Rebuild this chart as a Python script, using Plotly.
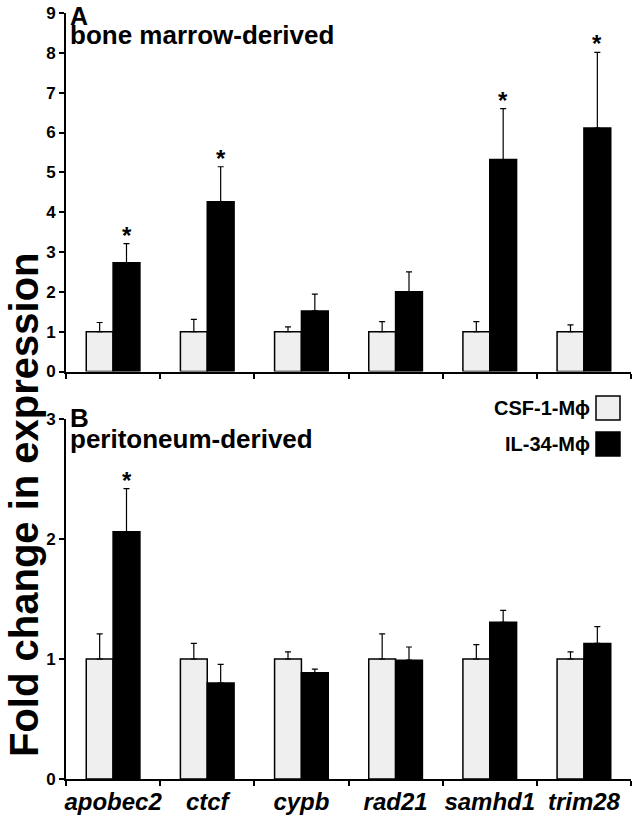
import plotly.graph_objects as go

genes = ["apobec2", "ctcf", "cypb", "rad21", "samhd1", "trim28"]
gene_labels = ["<i>apobec2</i>", "<i>ctcf</i>", "<i>cypb</i>", "<i>rad21</i>", "<i>samhd1</i>", "<i>trim28</i>"]

# Panel A: bone marrow-derived
bm_csf = [1.0, 1.0, 1.0, 1.0, 1.0, 1.0]
bm_csf_err = [0.23, 0.31, 0.12, 0.25, 0.25, 0.17]
bm_il = [2.73, 4.26, 1.52, 2.0, 5.32, 6.11]
bm_il_err = [0.48, 0.88, 0.42, 0.5, 1.28, 1.9]
bm_sig = [True, True, False, False, True, True]

# Panel B: peritoneum-derived
pe_csf = [1.0, 1.0, 1.0, 1.0, 1.0, 1.0]
pe_csf_err = [0.21, 0.13, 0.06, 0.21, 0.12, 0.06]
pe_il = [2.06, 0.80, 0.886, 0.99, 1.306, 1.13]
pe_il_err = [0.36, 0.155, 0.03, 0.11, 0.1, 0.14]
pe_sig = [True, False, False, False, False, False]

top_ticks = [0, 1, 2, 3, 4, 5, 6, 7, 8, 9]
bot_ticks = [0, 1, 2, 3]

FONT = "Liberation Sans, Arial, sans-serif"
CSF_COLOR = "#efefef"
IL_COLOR = "#000000"

fig = go.Figure()

def add_bars(xa, ya, csf, csf_err, il, il_err):
    fig.add_trace(go.Bar(
        x=gene_labels, y=csf, name="CSF-1-M\u03d5", xaxis=xa, yaxis=ya,
        marker=dict(color=CSF_COLOR, line=dict(color="black", width=1.5)),
        error_y=dict(type="data", symmetric=False, array=csf_err,
                     arrayminus=[0] * len(csf_err), color="black",
                     thickness=1.2, width=3),
        showlegend=False, offsetgroup="csf"))
    fig.add_trace(go.Bar(
        x=gene_labels, y=il, name="IL-34-M\u03d5", xaxis=xa, yaxis=ya,
        marker=dict(color=IL_COLOR, line=dict(color="black", width=1.5)),
        error_y=dict(type="data", symmetric=False, array=il_err,
                     arrayminus=[0] * len(il_err), color="black",
                     thickness=1.2, width=3),
        showlegend=False, offsetgroup="il"))

add_bars("x", "y", bm_csf, bm_csf_err, bm_il, bm_il_err)
add_bars("x2", "y2", pe_csf, pe_csf_err, pe_il, pe_il_err)

annotations = []
for i, g in enumerate(gene_labels):
    if bm_sig[i]:
        annotations.append(dict(x=g, y=bm_il[i] + bm_il_err[i], xref="x", yref="y",
                                text="<b>*</b>", showarrow=False, xshift=13.5, yshift=-7,
                                yanchor="bottom", font=dict(size=24, family=FONT, color="black")))
    if pe_sig[i]:
        annotations.append(dict(x=g, y=pe_il[i] + pe_il_err[i], xref="x2", yref="y2",
                                text="<b>*</b>", showarrow=False, xshift=13.5, yshift=-7,
                                yanchor="bottom", font=dict(size=24, family=FONT, color="black")))

W, H = 633, 816
# plot area in pixels: x 66..631, y 13..779
L, R, T, B = 66, 631, 13, 779
def px(x):
    return (x - L) / (R - L)
def py(y):
    return (B - y) / (B - T)

PF = 26
annotations += [
    dict(x=px(68), y=py(0), xref="paper", yref="paper", xanchor="left", yanchor="top",
         text="<b>A</b>", showarrow=False, font=dict(size=25, family=FONT, color="black")),
    dict(x=px(68), y=py(35), xref="paper", yref="paper", xanchor="left", yanchor="middle",
         text="<b>bone marrow-derived</b>", showarrow=False, font=dict(size=PF, family=FONT, color="black")),
    dict(x=px(68), y=py(418), xref="paper", yref="paper", xanchor="left", yanchor="middle",
         text="<b>B</b>", showarrow=False, font=dict(size=PF, family=FONT, color="black")),
    dict(x=px(68), y=py(439), xref="paper", yref="paper", xanchor="left", yanchor="middle",
         text="<b>peritoneum-derived</b>", showarrow=False, font=dict(size=PF, family=FONT, color="black")),
    # legend text
    dict(x=px(592), y=py(408), xref="paper", yref="paper", xanchor="right", yanchor="middle",
         text="<b>CSF-1-M\u03d5</b>", showarrow=False, font=dict(size=20, family=FONT, color="black")),
    dict(x=px(592), y=py(444), xref="paper", yref="paper", xanchor="right", yanchor="middle",
         text="<b>IL-34-M\u03d5</b>", showarrow=False, font=dict(size=20, family=FONT, color="black")),
    # y-axis title
    dict(x=px(24), y=py(505), xref="paper", yref="paper", xanchor="center", yanchor="middle",
         text="<b>Fold change in expression</b>", textangle=-90, showarrow=False,
         font=dict(size=40, family=FONT, color="black")),
]

shapes = [
    dict(type="rect", xref="paper", yref="paper", x0=px(596), x1=px(620), y0=py(420), y1=py(396),
         fillcolor=CSF_COLOR, line=dict(color="black", width=1.5)),
    dict(type="rect", xref="paper", yref="paper", x0=px(596), x1=px(620), y0=py(456), y1=py(432),
         fillcolor=IL_COLOR, line=dict(color="black", width=1.5)),
]

axis_common = dict(showline=True, linecolor="black", linewidth=2, ticks="outside",
                   tickcolor="black", tickwidth=1.5, ticklen=5, showgrid=False, zeroline=False,
                   automargin=False, ticklabeloverflow="allow",
                   tickfont=dict(size=17, family=FONT, color="black"))

top_lo = py(371.5)
bot_hi = py(419)

fig.update_layout(
    width=W, height=H,
    margin=dict(l=L, r=W - R, t=T, b=H - B),
    paper_bgcolor="white", plot_bgcolor="white",
    barmode="group", bargap=0.43, bargroupgap=0,
    xaxis=dict(domain=[0, 1], anchor="y", type="category", tickson="boundaries",
               showticklabels=False, categoryorder="array", categoryarray=gene_labels,
               **axis_common),
    yaxis=dict(domain=[top_lo, 1], anchor="x", range=[0, 9], tickvals=top_ticks,
               ticktext=[f"<b>{t}</b>" for t in top_ticks], **axis_common),
    xaxis2=dict(domain=[0, 1], anchor="y2", type="category", tickson="boundaries",
                categoryorder="array", categoryarray=gene_labels, tickangle=0,
                **{**axis_common, "tickfont": dict(size=24, family=FONT, color="black")}),
    yaxis2=dict(domain=[0, bot_hi], anchor="x2", range=[0, 3], tickvals=bot_ticks,
                ticktext=[f"<b>{t}</b>" for t in bot_ticks], **axis_common),
    annotations=annotations,
    shapes=shapes,
)

fig.update_layout(xaxis2_ticktext=[f"<b>{g}</b>" for g in gene_labels], xaxis2_tickvals=gene_labels)

fig.write_html("out.html", config={"displayModeBar": False},
               post_script="document.body.style.margin='0';document.body.style.overflow='hidden';")
